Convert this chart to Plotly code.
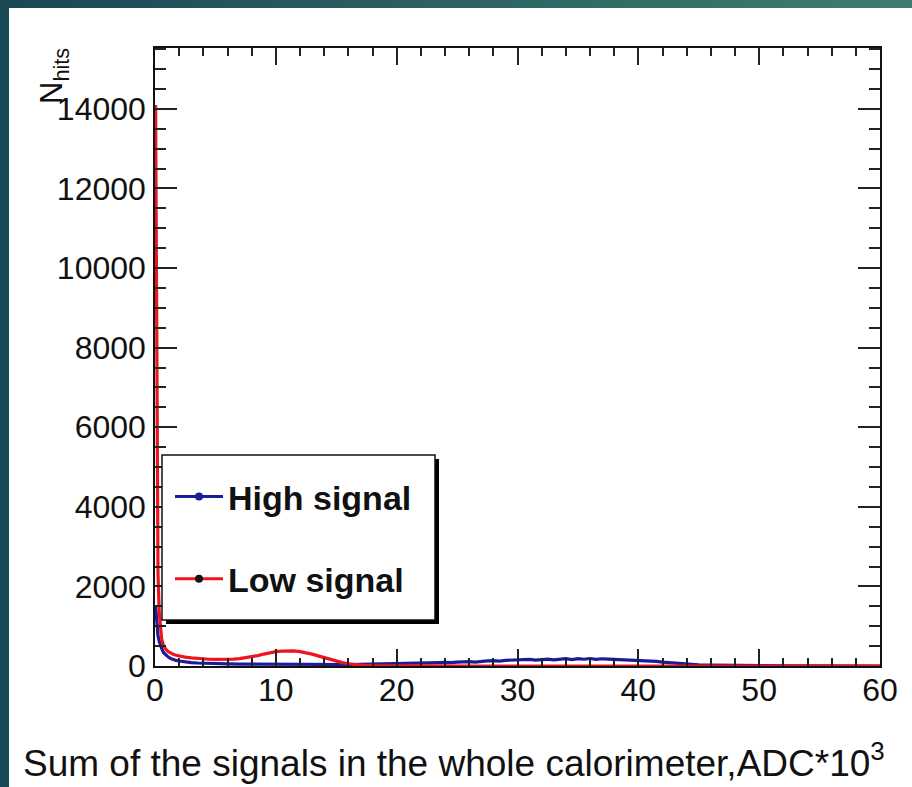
import plotly.graph_objects as go

# ---- histogram contents (x in ADC*10^3, counts per bin) ----
x_low = [0.05, 0.15, 0.25, 0.35, 0.45, 0.55, 0.7, 0.9, 1.1, 1.3, 1.5, 1.75,
         2.0, 2.5, 3.0, 3.5, 4.0, 4.5, 5.0, 5.5, 6.0, 6.5, 7.0, 7.5, 8.0, 8.5,
         9.0, 9.5, 10.0, 10.5, 11.0, 11.5, 12.0, 12.5, 13.0, 13.5, 14.0, 14.5,
         15.0, 15.5, 16.0, 16.5, 17.0, 17.5, 18.0, 19.0, 20.0, 22.0, 24.0, 26.0,
         28.0, 30.0, 32.0, 34.0, 36.0, 38.0, 40.0, 42.0, 44.0, 46.0, 48.0, 50.0,
         52.0, 54.0, 56.0, 58.0, 60.0]
n_low = [14100, 5300, 2300, 1350, 900, 680, 520, 420, 360, 320, 295, 270,
         250, 225, 205, 190, 180, 170, 165, 163, 165, 172, 185, 205, 230, 262,
         300, 335, 360, 375, 382, 378, 362, 335, 298, 255, 210, 165,
         122, 85, 56, 35, 20, 12, 7, 4, 2, 1, 1, 0,
         0, 0, 0, 0, 0, 0, 0, 0, 0, 0, 0, 0,
         0, 0, 0, 0, 0]

x_high = [0.05, 0.15, 0.25, 0.35, 0.45, 0.55, 0.7, 0.9, 1.1, 1.3, 1.5, 1.75,
          2.0, 2.5, 3.0, 3.5, 4.0, 5.0, 6.0, 7.0, 8.0, 9.0, 10.0, 11.0, 12.0,
          13.0, 14.0, 15.0, 16.0, 17.0, 18.0, 19.0,
          20.0, 20.5, 21.0, 21.5, 22.0, 22.5, 23.0, 23.5, 24.0, 24.5, 25.0,
          25.5, 26.0, 26.5, 27.0, 27.5, 28.0, 28.5, 29.0, 29.5, 30.0, 30.5,
          31.0, 31.5, 32.0, 32.5, 33.0, 33.5, 34.0, 34.5, 35.0, 35.5, 36.0,
          36.5, 37.0, 37.5, 38.0, 38.5, 39.0, 39.5, 40.0, 40.5, 41.0, 41.5,
          42.0, 42.5, 43.0, 43.5, 44.0, 44.5, 45.0,
          46.0, 47.0, 48.0, 49.0, 50.0, 51.0, 52.0, 53.0, 54.0, 55.0, 56.0,
          57.0, 58.0, 59.0, 60.0]
n_high = [1500, 1000, 760, 620, 520, 440, 340, 270, 225, 190, 160, 140,
          125, 100, 85, 75, 68, 58, 52, 48, 45, 42, 40, 38, 37,
          36, 36, 37, 38, 40, 44, 48,
          55, 62, 56, 68, 72, 66, 80, 84, 90, 83, 98,
          106, 112, 100, 122, 128, 136, 122, 142, 150, 138, 158,
          164, 146, 168, 174, 156, 178, 184, 162, 186, 170, 188,
          166, 182, 172, 164, 176, 158, 156, 146, 138, 124, 114,
          98, 84, 70, 56, 44, 34, 26,
          20, 15, 11, 8, 6, 4, 3, 2, 2, 1, 1,
          1, 0, 0, 0]

series_names = ["High signal", "Low signal"]
series_colors = ["#1c1c9a", "#ee1520"]
legend_marker_colors = ["#1c1c9a", "#111111"]

x_range = [0, 60]
y_range = [0, 15530]

# ---- page geometry (pixels) ----
W_PX, H_PX = 912, 787
L, R, T, B = 155, 32, 48, 121
plot_w = W_PX - L - R
plot_h = H_PX - T - B


def px_x(p):
    return (p - L) / plot_w


def px_y(p):
    return (H_PX - B - p) / plot_h


fig = go.Figure()

for xs, ys, name, col in [(x_high, n_high, series_names[0], series_colors[0]),
                          (x_low, n_low, series_names[1], series_colors[1])]:
    fig.add_trace(go.Scatter(x=xs, y=ys, mode="lines", name=name,
                             line=dict(color=col, width=3.2),
                             showlegend=False, hoverinfo="x+y"))

# legend entries: line with a dot marker
for i, name in enumerate(series_names):
    fig.add_trace(go.Scatter(x=[None], y=[None], mode="lines+markers", name=name,
                             legendgroup=name,
                             line=dict(color=series_colors[i], width=3),
                             marker=dict(color=legend_marker_colors[i], size=8)))

shapes = []
# dark band on the left edge
shapes.append(dict(type="rect", xref="paper", yref="paper",
                   x0=px_x(0), x1=px_x(9), y0=px_y(H_PX), y1=px_y(0),
                   fillcolor="#1b4a57", line=dict(width=0), layer="below"))
# gradient band across the top edge
n_strips = 60
c0 = (27, 72, 86)
c1 = (62, 126, 110)
for k in range(n_strips):
    f = k / (n_strips - 1)
    col = "rgb(%d,%d,%d)" % tuple(int(round(a + (b - a) * f)) for a, b in zip(c0, c1))
    xa = W_PX * k / n_strips
    xb = W_PX * (k + 1) / n_strips + 1
    shapes.append(dict(type="rect", xref="paper", yref="paper",
                       x0=px_x(xa), x1=px_x(xb), y0=px_y(8), y1=px_y(0),
                       fillcolor=col, line=dict(width=0), layer="below"))
# legend frame with drop shadow
box = (162, 455, 435, 620)
shapes.append(dict(type="rect", xref="paper", yref="paper",
                   x0=px_x(box[0] + 4), x1=px_x(box[2] + 4),
                   y0=px_y(box[3] + 4), y1=px_y(box[1] + 4),
                   fillcolor="#000000", line=dict(width=0), layer="above"))
shapes.append(dict(type="rect", xref="paper", yref="paper",
                   x0=px_x(box[0]), x1=px_x(box[2]),
                   y0=px_y(box[3]), y1=px_y(box[1]),
                   fillcolor="#ffffff", line=dict(color="#111111", width=1.5),
                   layer="above"))

font_family = "Liberation Sans, Arial, sans-serif"
axis_common = dict(showgrid=False, zeroline=False, showline=True,
                   linecolor="#111111", linewidth=1.5, mirror="ticks",
                   ticks="inside", tickcolor="#222222", tickwidth=1.5,
                   tickfont=dict(family=font_family, size=32, color="#111111"))

fig.update_layout(
    width=W_PX, height=H_PX,
    margin=dict(l=L, r=R, t=T, b=B, pad=0),
    paper_bgcolor="#ffffff", plot_bgcolor="#ffffff",
    shapes=shapes,
    xaxis=dict(range=x_range, tick0=0, dtick=10, ticklen=17,
               minor=dict(dtick=2, ticks="inside", ticklen=8,
                          tickcolor="#222222", tickwidth=1.5),
               ticklabelstandoff=-5, **axis_common),
    yaxis=dict(range=y_range, tick0=0, dtick=2000, ticklen=22, tickformat="d",
               minor=dict(dtick=500, ticks="inside", ticklen=11,
                          tickcolor="#222222", tickwidth=1.5),
               ticklabelstandoff=1, **axis_common),
    legend=dict(x=px_x(box[0] + 8), y=px_y(box[1] + 13), xanchor="left", yanchor="top",
                bgcolor="rgba(0,0,0,0)", borderwidth=0, tracegroupgap=35,
                itemwidth=48,
                font=dict(family=font_family, size=34, color="#111111", weight="bold")),
    annotations=[
        dict(text="Sum of the signals in the whole calorimeter,ADC*10<sup>3</sup>",
             xref="paper", yref="paper", x=px_x(887), y=px_y(760),
             xanchor="right", yanchor="middle", showarrow=False,
             font=dict(family=font_family, size=37, color="#111111")),
        dict(text="N<sub>hits</sub>", textangle=-90,
             xref="paper", yref="paper", x=px_x(54), y=px_y(46),
             xanchor="center", yanchor="top", showarrow=False,
             font=dict(family=font_family, size=31, color="#111111")),
    ],
)

fig.write_html("out.html")
